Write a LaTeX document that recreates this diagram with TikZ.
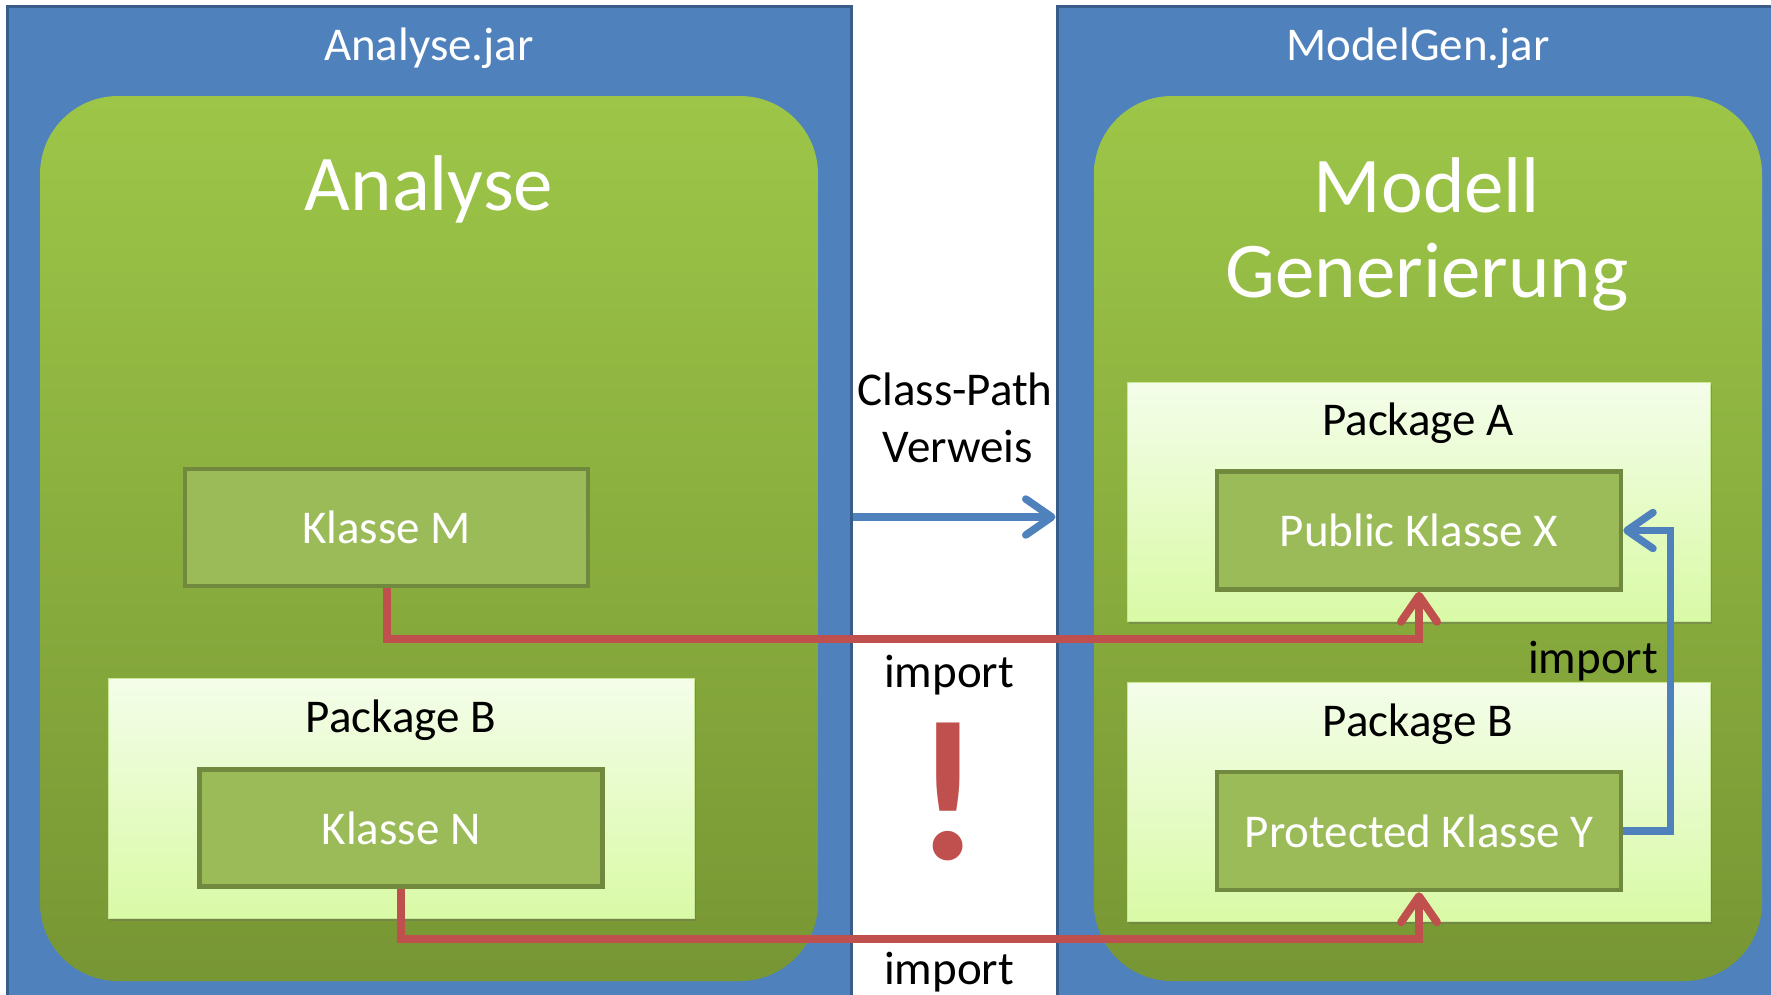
\documentclass[tikz,border=0pt]{standalone}
\usepackage{fontspec}
\setmainfont{Carlito}
\usetikzlibrary{arrows.meta,shadows}
\definecolor{jarblue}{RGB}{79,129,189}
\definecolor{jarborder}{RGB}{56,93,138}
\definecolor{modtop}{RGB}{157,198,72}
\definecolor{modbot}{RGB}{119,150,52}
\definecolor{pkgtop}{RGB}{244,253,234}
\definecolor{pkgbot}{RGB}{217,250,166}
\definecolor{pkgborder}{RGB}{200,232,150}
\definecolor{klfill}{RGB}{155,187,89}
\definecolor{klborder}{RGB}{113,137,63}
\definecolor{arrred}{RGB}{192,80,77}
\definecolor{arrblue}{RGB}{79,129,189}
\newcommand\fsz[2]{\fontsize{#1}{#2}\selectfont}
\begin{document}
\begin{tikzpicture}[x=1pt,y=-1pt,
  jar/.style={draw=jarborder, line width=3pt, fill=jarblue, inner sep=0pt},
  module/.style={draw=none, rounded corners=78pt, top color=modtop, bottom color=modbot, inner sep=0pt},
  pkg/.style={draw=pkgborder, line width=1pt, top color=pkgtop, bottom color=pkgbot, inner sep=0pt,
    drop shadow={shadow xshift=2pt, shadow yshift=-3pt, opacity=0.35, fill=black!60}},
  klasse/.style={draw=klborder, line width=4.5pt, fill=klfill, text=white, font=\fsz{47}{56}, inner sep=0pt},
  wtitle/.style={text=white, anchor=base, inner sep=0pt},
  btext/.style={text=black, anchor=base, inner sep=0pt, font=\fsz{47}{56}},
  redarr/.style={draw=arrred, line width=8pt, -{Straight Barb[length=26pt,width=36pt,round]}},
  bluearr/.style={draw=arrblue, line width=7.5pt, -{Straight Barb[length=26pt,width=36pt,round]}}
]
\useasboundingbox (0,0) rectangle (1771,994);
\clip (0,0) rectangle (1771,994);
\fill[white] (0,0) rectangle (1771,994);

% jar containers
\node[jar, minimum width=844pt, minimum height=1004pt] (ajar) at (429,508) {};
\node[jar, minimum width=733pt, minimum height=1004pt] (mjar) at (1423.5,508) {};
\node[wtitle, font=\fsz{47}{56}] (ajart) at (429,60) {Analyse.jar};
\node[wtitle, font=\fsz{47}{56}] (mjart) at (1418,60) {ModelGen.jar};

% modules
\node[module, minimum width=778pt, minimum height=885pt] (amod) at (429,538.5) {};
\node[module, minimum width=668pt, minimum height=885pt] (mmod) at (1428,538.5) {};
\node[wtitle, font=\fsz{79}{85}] (amodt) at (429,210) {Analyse};
\node[wtitle, font=\fsz{79}{85}] (mmodt1) at (1427,212) {Modell};
\node[wtitle, font=\fsz{79}{85}] (mmodt2) at (1427,297) {Generierung};

% packages
\node[pkg, minimum width=586pt, minimum height=240pt] (pkbl) at (401,798) {};
\node[btext] (pkblt) at (401,732) {Package B};
\node[pkg, minimum width=583pt, minimum height=239pt] (pka) at (1418.5,501.5) {};
\node[btext] (pkat) at (1418,435) {Package A};
\node[pkg, minimum width=583pt, minimum height=239pt] (pkbr) at (1418.5,801.5) {};
\node[btext] (pkbrt) at (1418,736) {Package B};

% classes
\node[klasse, minimum width=403pt, minimum height=117pt] (km) at (386.5,527.5) {Klasse M};
\node[klasse, minimum width=403pt, minimum height=117pt] (kn) at (401,828) {Klasse N};
\node[klasse, minimum width=404pt, minimum height=118pt] (kx) at (1419,530.5) {Public Klasse X};
\node[klasse, minimum width=404pt, minimum height=118pt] (ky) at (1419,831) {Protected Klasse Y};

% labels between
\node[btext] (cp1) at (955,405) {Class-Path};
\node[btext] (cp2) at (958,462) {Verweis};
\node[btext] (imp1) at (949,687) {import};
\node[btext] (imp2) at (949,984) {import};
\node[btext] (imp3) at (1593,673) {import};
\node[text=arrred, font=\fsz{200}{240}\bfseries, inner sep=0pt] (excl) at (948,791.5) {!};

% connectors
\draw[bluearr] (ajar.east |- 0,517) -- (mjar.west |- 0,517);
\draw[redarr] (km.south) -- ++(0,51) -| (kx.south);
\draw[redarr] (kn.south) -- ++(0,50) -| (ky.south);
\draw[bluearr] (ky.east) -- ++(47,0) |- (kx.east);
\end{tikzpicture}
\end{document}
